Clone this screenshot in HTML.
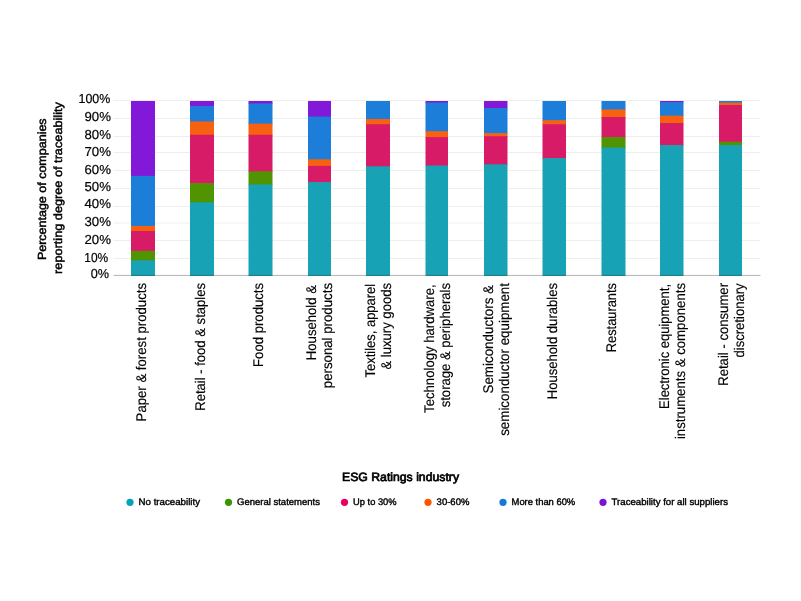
<!DOCTYPE html>
<html><head><meta charset="utf-8"><title>Chart</title>
<style>html,body{margin:0;padding:0;background:#fff;width:801px;height:601px;overflow:hidden}body{position:relative;font-family:"Liberation Sans",sans-serif}</style></head>
<body>
<svg width="801" height="601" viewBox="0 0 801 601" style="position:absolute;left:0;top:0;will-change:transform;text-rendering:geometricPrecision;font-family:'Liberation Sans',sans-serif">
<line x1="113.5" x2="760.5" y1="258.50" y2="258.50" stroke="#000" stroke-opacity="0.065" stroke-width="1"/>
<line x1="113.5" x2="760.5" y1="240.50" y2="240.50" stroke="#000" stroke-opacity="0.065" stroke-width="1"/>
<line x1="113.5" x2="760.5" y1="223.00" y2="223.00" stroke="#000" stroke-opacity="0.065" stroke-width="1"/>
<line x1="113.5" x2="760.5" y1="206.50" y2="206.50" stroke="#000" stroke-opacity="0.065" stroke-width="1"/>
<line x1="113.5" x2="760.5" y1="188.50" y2="188.50" stroke="#000" stroke-opacity="0.065" stroke-width="1"/>
<line x1="113.5" x2="760.5" y1="170.50" y2="170.50" stroke="#000" stroke-opacity="0.065" stroke-width="1"/>
<line x1="113.5" x2="760.5" y1="152.50" y2="152.50" stroke="#000" stroke-opacity="0.065" stroke-width="1"/>
<line x1="113.5" x2="760.5" y1="136.50" y2="136.50" stroke="#000" stroke-opacity="0.065" stroke-width="1"/>
<line x1="113.5" x2="760.5" y1="118.50" y2="118.50" stroke="#000" stroke-opacity="0.065" stroke-width="1"/>
<line x1="113.5" x2="760.5" y1="100.50" y2="100.50" stroke="#000" stroke-opacity="0.065" stroke-width="1"/>
<rect x="131" y="101.00" width="24" height="75.59" fill="#8219d9"/>
<rect x="131" y="175.89" width="24" height="50.77" fill="#1c7ed8"/>
<rect x="131" y="225.97" width="24" height="5.68" fill="#f6620f"/>
<rect x="131" y="230.95" width="24" height="20.64" fill="#d81b66"/>
<rect x="131" y="250.89" width="24" height="10.11" fill="#509501"/>
<rect x="131" y="260.30" width="24" height="15.60" fill="#17a2b5"/>
<rect x="190" y="101.00" width="24" height="5.68" fill="#8219d9"/>
<rect x="190" y="105.98" width="24" height="16.11" fill="#1c7ed8"/>
<rect x="190" y="121.39" width="24" height="14.06" fill="#f6620f"/>
<rect x="190" y="134.76" width="24" height="49.04" fill="#d81b66"/>
<rect x="190" y="183.10" width="24" height="19.90" fill="#509501"/>
<rect x="190" y="202.30" width="24" height="73.60" fill="#17a2b5"/>
<rect x="248.5" y="101.00" width="24.0" height="3.10" fill="#8219d9"/>
<rect x="248.5" y="103.40" width="24.0" height="20.90" fill="#1c7ed8"/>
<rect x="248.5" y="123.60" width="24.0" height="11.86" fill="#f6620f"/>
<rect x="248.5" y="134.76" width="24.0" height="37.25" fill="#d81b66"/>
<rect x="248.5" y="171.31" width="24.0" height="13.89" fill="#509501"/>
<rect x="248.5" y="184.50" width="24.0" height="91.40" fill="#17a2b5"/>
<rect x="308" y="101.00" width="23" height="16.30" fill="#8219d9"/>
<rect x="308" y="116.60" width="23" height="43.39" fill="#1c7ed8"/>
<rect x="308" y="159.29" width="23" height="7.29" fill="#f6620f"/>
<rect x="308" y="165.89" width="23" height="16.91" fill="#d81b66"/>
<rect x="308" y="182.10" width="23" height="93.80" fill="#17a2b5"/>
<rect x="366" y="101.00" width="24" height="18.71" fill="#1c7ed8"/>
<rect x="366" y="119.01" width="24" height="5.88" fill="#f6620f"/>
<rect x="366" y="124.19" width="24" height="42.82" fill="#d81b66"/>
<rect x="366" y="166.31" width="24" height="109.59" fill="#17a2b5"/>
<rect x="425.5" y="101.00" width="22.5" height="2.29" fill="#8219d9"/>
<rect x="425.5" y="102.59" width="22.5" height="29.31" fill="#1c7ed8"/>
<rect x="425.5" y="131.21" width="22.5" height="6.59" fill="#f6620f"/>
<rect x="425.5" y="137.10" width="22.5" height="29.10" fill="#d81b66"/>
<rect x="425.5" y="165.50" width="22.5" height="110.40" fill="#17a2b5"/>
<rect x="484" y="101.00" width="23.5" height="7.70" fill="#8219d9"/>
<rect x="484" y="108.00" width="23.5" height="25.89" fill="#1c7ed8"/>
<rect x="484" y="133.18" width="23.5" height="3.73" fill="#f6620f"/>
<rect x="484" y="136.21" width="23.5" height="28.81" fill="#d81b66"/>
<rect x="484" y="164.31" width="23.5" height="111.59" fill="#17a2b5"/>
<rect x="542.5" y="101.00" width="23.5" height="19.90" fill="#1c7ed8"/>
<rect x="542.5" y="120.20" width="23.5" height="4.69" fill="#f6620f"/>
<rect x="542.5" y="124.19" width="23.5" height="34.61" fill="#d81b66"/>
<rect x="542.5" y="158.10" width="23.5" height="117.80" fill="#17a2b5"/>
<rect x="601.5" y="101.00" width="24.0" height="9.10" fill="#1c7ed8"/>
<rect x="601.5" y="109.40" width="24.0" height="8.31" fill="#f6620f"/>
<rect x="601.5" y="117.00" width="24.0" height="20.80" fill="#d81b66"/>
<rect x="601.5" y="137.10" width="24.0" height="11.11" fill="#509501"/>
<rect x="601.5" y="147.51" width="24.0" height="128.39" fill="#17a2b5"/>
<rect x="660" y="101.00" width="23.5" height="1.92" fill="#8219d9"/>
<rect x="660" y="102.22" width="23.5" height="14.08" fill="#1c7ed8"/>
<rect x="660" y="115.60" width="23.5" height="8.13" fill="#f6620f"/>
<rect x="660" y="123.04" width="23.5" height="22.74" fill="#d81b66"/>
<rect x="660" y="145.07" width="23.5" height="130.83" fill="#17a2b5"/>
<rect x="719" y="101.00" width="23" height="2.27" fill="#1c7ed8"/>
<rect x="719" y="102.57" width="23" height="3.15" fill="#f6620f"/>
<rect x="719" y="105.02" width="23" height="37.43" fill="#d81b66"/>
<rect x="719" y="141.75" width="23" height="4.02" fill="#509501"/>
<rect x="719" y="145.07" width="23" height="130.83" fill="#17a2b5"/>
<line x1="113.5" x2="760.5" y1="275.4" y2="275.4" stroke="#000" stroke-opacity="0.3" stroke-width="1"/>
<text x="90.8" y="277.90" font-size="13" fill="#000" stroke="#000" stroke-width="0.2" textLength="18.3" lengthAdjust="spacingAndGlyphs">0%</text>
<text x="84.3" y="261.90" font-size="13" fill="#000" stroke="#000" stroke-width="0.2" textLength="23.9" lengthAdjust="spacingAndGlyphs">10%</text>
<text x="84.5" y="243.90" font-size="13" fill="#000" stroke="#000" stroke-width="0.2" textLength="26.4" lengthAdjust="spacingAndGlyphs">20%</text>
<text x="84.5" y="225.90" font-size="13" fill="#000" stroke="#000" stroke-width="0.2" textLength="26.4" lengthAdjust="spacingAndGlyphs">30%</text>
<text x="84.5" y="208.30" font-size="13" fill="#000" stroke="#000" stroke-width="0.2" textLength="26.4" lengthAdjust="spacingAndGlyphs">40%</text>
<text x="84.5" y="191.40" font-size="13" fill="#000" stroke="#000" stroke-width="0.2" textLength="26.4" lengthAdjust="spacingAndGlyphs">50%</text>
<text x="84.5" y="173.90" font-size="13" fill="#000" stroke="#000" stroke-width="0.2" textLength="26.4" lengthAdjust="spacingAndGlyphs">60%</text>
<text x="84.5" y="156.00" font-size="13" fill="#000" stroke="#000" stroke-width="0.2" textLength="26.4" lengthAdjust="spacingAndGlyphs">70%</text>
<text x="84.5" y="138.90" font-size="13" fill="#000" stroke="#000" stroke-width="0.2" textLength="26.4" lengthAdjust="spacingAndGlyphs">80%</text>
<text x="84.5" y="120.90" font-size="13" fill="#000" stroke="#000" stroke-width="0.2" textLength="26.4" lengthAdjust="spacingAndGlyphs">90%</text>
<text x="78.5" y="103.00" font-size="13" fill="#000" stroke="#000" stroke-width="0.2" textLength="31.8" lengthAdjust="spacingAndGlyphs">100%</text>
<text transform="translate(46.40,260.10) rotate(-90)" font-size="11.8" font-weight="normal" fill="#000" stroke="#000" stroke-width="0.45" textLength="141.70" lengthAdjust="spacingAndGlyphs">Percentage of companies</text>
<text transform="translate(61.70,273.90) rotate(-90)" font-size="11.8" font-weight="normal" fill="#000" stroke="#000" stroke-width="0.45" textLength="171.80" lengthAdjust="spacingAndGlyphs">reporting degree of traceability</text>
<text transform="translate(145.71,421.40) rotate(-90)" font-size="14" font-weight="normal" fill="#000" stroke="#000" stroke-width="0.15" textLength="138.40" lengthAdjust="spacingAndGlyphs">Paper &amp; forest products</text>
<text transform="translate(204.53,410.80) rotate(-90)" font-size="14" font-weight="normal" fill="#000" stroke="#000" stroke-width="0.15" textLength="127.80" lengthAdjust="spacingAndGlyphs">Retail - food &amp; staples</text>
<text transform="translate(263.35,366.90) rotate(-90)" font-size="14" font-weight="normal" fill="#000" stroke="#000" stroke-width="0.15" textLength="83.90" lengthAdjust="spacingAndGlyphs">Food products</text>
<text transform="translate(316.36,360.20) rotate(-90)" font-size="14" font-weight="normal" fill="#000" stroke="#000" stroke-width="0.15" textLength="75.20" lengthAdjust="spacingAndGlyphs">Household &amp;</text>
<text transform="translate(332.16,388.20) rotate(-90)" font-size="14" font-weight="normal" fill="#000" stroke="#000" stroke-width="0.15" textLength="105.20" lengthAdjust="spacingAndGlyphs">personal products</text>
<text transform="translate(375.18,377.50) rotate(-90)" font-size="14" font-weight="normal" fill="#000" stroke="#000" stroke-width="0.15" textLength="93.70" lengthAdjust="spacingAndGlyphs">Textiles, apparel</text>
<text transform="translate(390.98,369.50) rotate(-90)" font-size="14" font-weight="normal" fill="#000" stroke="#000" stroke-width="0.15" textLength="86.50" lengthAdjust="spacingAndGlyphs">&amp; luxury goods</text>
<text transform="translate(434.00,412.90) rotate(-90)" font-size="14" font-weight="normal" fill="#000" stroke="#000" stroke-width="0.15" textLength="128.60" lengthAdjust="spacingAndGlyphs">Technology hardware,</text>
<text transform="translate(449.80,407.30) rotate(-90)" font-size="14" font-weight="normal" fill="#000" stroke="#000" stroke-width="0.15" textLength="124.30" lengthAdjust="spacingAndGlyphs">storage &amp; peripherals</text>
<text transform="translate(492.82,393.50) rotate(-90)" font-size="14" font-weight="normal" fill="#000" stroke="#000" stroke-width="0.15" textLength="108.50" lengthAdjust="spacingAndGlyphs">Semiconductors &amp;</text>
<text transform="translate(508.62,435.80) rotate(-90)" font-size="14" font-weight="normal" fill="#000" stroke="#000" stroke-width="0.15" textLength="152.80" lengthAdjust="spacingAndGlyphs">semiconductor equipment</text>
<text transform="translate(557.44,399.30) rotate(-90)" font-size="14" font-weight="normal" fill="#000" stroke="#000" stroke-width="0.15" textLength="116.30" lengthAdjust="spacingAndGlyphs">Household durables</text>
<text transform="translate(616.25,352.30) rotate(-90)" font-size="14" font-weight="normal" fill="#000" stroke="#000" stroke-width="0.15" textLength="69.30" lengthAdjust="spacingAndGlyphs">Restaurants</text>
<text transform="translate(669.27,408.90) rotate(-90)" font-size="14" font-weight="normal" fill="#000" stroke="#000" stroke-width="0.15" textLength="124.90" lengthAdjust="spacingAndGlyphs">Electronic equipment,</text>
<text transform="translate(685.07,439.10) rotate(-90)" font-size="14" font-weight="normal" fill="#000" stroke="#000" stroke-width="0.15" textLength="156.10" lengthAdjust="spacingAndGlyphs">instruments &amp; components</text>
<text transform="translate(728.09,385.80) rotate(-90)" font-size="14" font-weight="normal" fill="#000" stroke="#000" stroke-width="0.15" textLength="102.80" lengthAdjust="spacingAndGlyphs">Retail - consumer</text>
<text transform="translate(743.89,357.40) rotate(-90)" font-size="14" font-weight="normal" fill="#000" stroke="#000" stroke-width="0.15" textLength="73.90" lengthAdjust="spacingAndGlyphs">discretionary</text>
<text x="342" y="481" font-size="12" stroke="#000" stroke-width="0.7" textLength="117" lengthAdjust="spacingAndGlyphs">ESG Ratings industry</text>
<circle cx="130" cy="502.3" r="3.6" fill="#00a3b8"/>
<text x="138.6" y="505" font-size="9.5" textLength="61.4" lengthAdjust="spacingAndGlyphs" stroke="#000" stroke-width="0.4">No traceability</text>
<circle cx="228.5" cy="502.3" r="3.6" fill="#3a9600"/>
<text x="237.1" y="505" font-size="9.5" textLength="82.8" lengthAdjust="spacingAndGlyphs" stroke="#000" stroke-width="0.4">General statements</text>
<circle cx="344.5" cy="502.3" r="3.6" fill="#e60064"/>
<text x="353.1" y="505" font-size="9.5" textLength="43.4" lengthAdjust="spacingAndGlyphs" stroke="#000" stroke-width="0.4">Up to 30%</text>
<circle cx="428" cy="502.3" r="3.6" fill="#ff5500"/>
<text x="436.6" y="505" font-size="9.5" textLength="32.8" lengthAdjust="spacingAndGlyphs" stroke="#000" stroke-width="0.4">30-60%</text>
<circle cx="503" cy="502.3" r="3.6" fill="#1778d7"/>
<text x="511.6" y="505" font-size="9.5" textLength="63.6" lengthAdjust="spacingAndGlyphs" stroke="#000" stroke-width="0.4">More than 60%</text>
<circle cx="603" cy="502.3" r="3.6" fill="#7a14d7"/>
<text x="611.6" y="505" font-size="9.5" textLength="116.4" lengthAdjust="spacingAndGlyphs" stroke="#000" stroke-width="0.4">Traceability for all suppliers</text>
</svg>
</body></html>
